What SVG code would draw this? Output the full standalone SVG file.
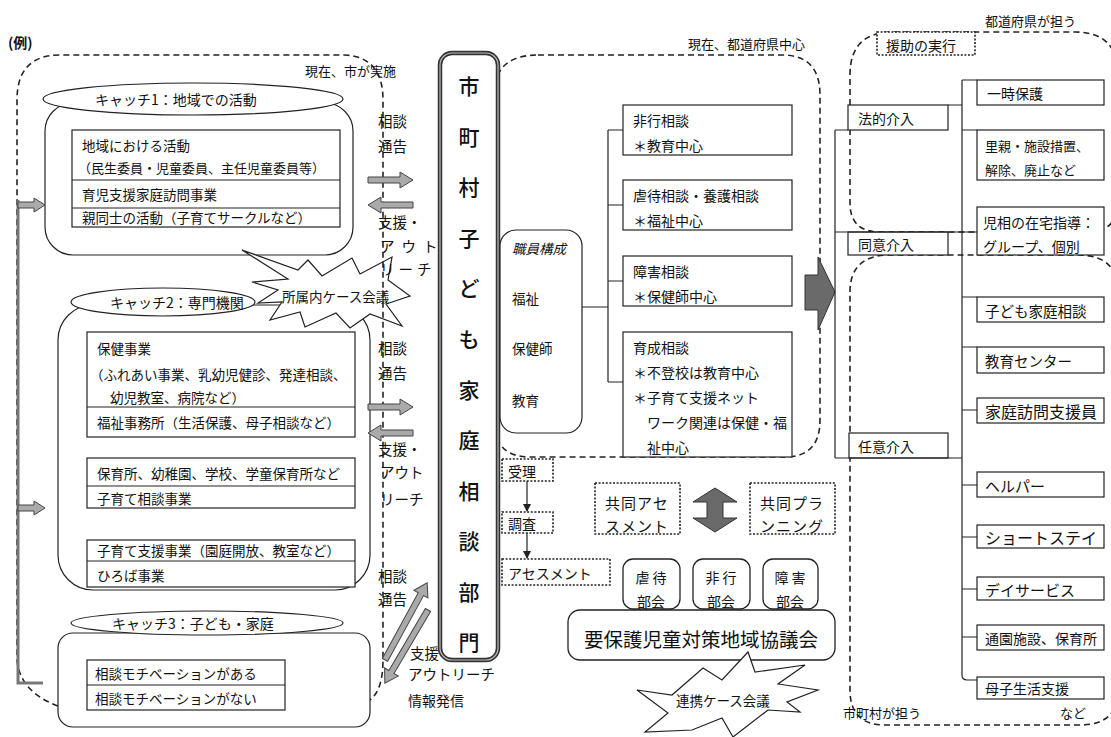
<svg xmlns="http://www.w3.org/2000/svg" width="1111" height="737" viewBox="0 0 1111 737">
<style>
text{font-family:"Noto Sans CJK JP","Noto Sans CJK SC",sans-serif;fill:#111;dominant-baseline:central;font-size:13.5px}
.f13{font-size:13px}.f14{font-size:14px}.f145{font-size:14.5px}.f15{font-size:15px}.f16{font-size:16px}
.big{font-size:21px;font-weight:500}.f195{font-size:19.5px}
.mid{text-anchor:middle}
.box{fill:#fff;stroke:#222;stroke-width:1.2}
.rbox{fill:#fff;stroke:#222;stroke-width:1.3}
.dash{fill:none;stroke:#222;stroke-width:1.6;stroke-dasharray:6 4}
.dot{fill:#fff;stroke:#222;stroke-width:1.6;stroke-dasharray:2 1.6}
.ln{fill:none;stroke:#222;stroke-width:1.2}
.garrow{fill:#aaa;stroke:#444;stroke-width:1}
.dark{fill:#6a6a6a;stroke:#333;stroke-width:1}
.burst{fill:#fff;stroke:#222;stroke-width:1.2;stroke-linejoin:miter}
</style>
<defs>
<marker id="ah" markerWidth="8" markerHeight="8" refX="7" refY="4" orient="auto" markerUnits="userSpaceOnUse"><path d="M0,0 L8,4 L0,8 Z" fill="#222"/></marker>
</defs>

<!-- region labels -->
<g id="labels">
<text x="8" y="42" class="f14" font-weight="bold">(例)</text>
<text x="305" y="70" class="f13">現在、市が実施</text>
<text x="688" y="43" class="f13">現在、都道府県中心</text>
<text x="985" y="20" class="f13">都道府県が担う</text>
<text x="843" y="712" class="f13">市町村が担う</text>
<text x="1060" y="712" class="f13">など</text>
</g>

<!-- dashed regions -->
<g id="region-prefecture-center">
<path class="dash" d="M538,55 H782 Q820,55 820,95 V420 Q820,457 785,457 H530 Q494,457 494,420 V95 Q494,55 538,55 Z"/>
</g>
<g id="region-prefecture">
<path class="dash" d="M850,75 Q850,32 893,32 H1075 Q1118,32 1118,75 V200 Q1118,232 1088,232 H880 Q850,232 850,203 Z"/>
</g>
<g id="region-municipality">
<path class="dash" d="M850,292 Q850,255 890,255 H1078 Q1118,255 1118,292 V690 Q1118,725 1080,725 H885 Q850,725 850,690 Z"/>
</g>

<!-- catch 1 -->
<g id="catch1">
<rect class="box" x="45" y="103" width="308" height="152" rx="28"/>
<ellipse class="box" cx="193" cy="99" rx="150" ry="16"/>
<text x="95" y="99" class="f14">キャッチ1：地域での活動</text>
<rect class="box" x="72" y="130" width="268" height="97"/>
<line class="ln" x1="72" y1="180" x2="340" y2="180"/>
<line class="ln" x1="72" y1="208" x2="340" y2="208"/>
<text x="82" y="145">地域における活動</text>
<text x="78" y="167" class="f13">（民生委員・児童委員、主任児童委員等）</text>
<text x="82" y="194">育児支援家庭訪問事業</text>
<text x="82" y="217">親同士の活動（子育てサークルなど）</text>
</g>

<!-- catch 2 -->
<g id="catch2">
<rect class="box" x="58" y="305" width="312" height="285" rx="35"/>
<ellipse class="box" cx="163" cy="302" rx="92" ry="14"/>
<text x="110" y="302" class="f14">キャッチ2：専門機関</text>
<rect class="box" x="87" y="332" width="268" height="105"/>
<line class="ln" x1="87" y1="407" x2="355" y2="407"/>
<text x="97" y="348">保健事業</text>
<text x="90" y="374">（ふれあい事業、乳幼児健診、発達相談、</text>
<text x="110" y="397">幼児教室、病院など）</text>
<text x="97" y="422">福祉事務所（生活保護、母子相談など）</text>
<rect class="box" x="87" y="458" width="268" height="50"/>
<line class="ln" x1="87" y1="486" x2="355" y2="486"/>
<text x="97" y="473">保育所、幼稚園、学校、学童保育所など</text>
<text x="97" y="498">子育て相談事業</text>
<rect class="box" x="87" y="540" width="268" height="47"/>
<line class="ln" x1="87" y1="561" x2="355" y2="561"/>
<text x="97" y="550">子育て支援事業（園庭開放、教室など）</text>
<text x="97" y="575">ひろば事業</text>
</g>

<!-- in-office case meeting -->
<g id="burst-office">
<polygon class="burst" points="242,250 298,270 308,260 322,276 352,258 360,274 392,257 388,280 410,296 386,304 402,326 370,314 350,328 336,313 305,327 300,312 270,320 282,302 258,303 278,290 252,282 288,279"/>
<text x="282" y="296">所属内ケース会議</text>
</g>

<!-- left dashed region (municipal) -->
<g id="region-city">
<path class="dash" d="M58,706 Q20,692 17,660 V100 Q17,55 60,55 H345 Q383,57 383,100 V660 Q383,690 370,700"/>
</g>

<!-- catch 3 -->
<g id="catch3">
<rect class="box" x="58" y="633" width="312" height="94" rx="15"/>
<ellipse class="box" cx="207" cy="623" rx="136" ry="12"/>
<text x="112" y="623" class="f14">キャッチ3：子ども・家庭</text>
<rect class="box" x="87" y="660" width="198" height="50"/>
<line class="ln" x1="87" y1="685" x2="285" y2="685"/>
<text x="95" y="673">相談モチベーションがある</text>
<text x="95" y="698">相談モチベーションがない</text>
</g>

<!-- middle column labels -->
<g id="mid-labels">
<text x="378" y="120" class="f145">相談</text>
<text x="378" y="145" class="f145">通告</text>
<text x="378" y="221" class="f145">支援・</text>
<text x="380" y="245" class="f145" letter-spacing="7">アウト</text>
<text x="380" y="268" class="f145" letter-spacing="4">リーチ</text>
<text x="378" y="347" class="f145">相談</text>
<text x="378" y="372" class="f145">通告</text>
<text x="378" y="448" class="f145">支援・</text>
<text x="380" y="471" class="f145">アウト</text>
<text x="380" y="498" class="f145">リーチ</text>
<text x="378" y="575" class="f145">相談</text>
<text x="378" y="598" class="f145">通告</text>
<text x="410" y="652" class="f145">支援</text>
<text x="408" y="673" class="f145">アウトリーチ</text>
<text x="408" y="700" class="f14">情報発信</text>
</g>

<!-- central department -->
<g id="dept">
<rect x="440" y="53" width="58" height="607" rx="12" fill="#fff" stroke="#333" stroke-width="4.5"/>
<rect x="440" y="53" width="58" height="607" rx="12" fill="none" stroke="#bbb" stroke-width="1.2"/>
<text x="469" y="85" class="mid big">市</text>
<text x="469" y="136" class="mid big">町</text>
<text x="469" y="186" class="mid big">村</text>
<text x="469" y="237" class="mid big">子</text>
<text x="469" y="287" class="mid big">ど</text>
<text x="469" y="338" class="mid big">も</text>
<text x="469" y="389" class="mid big">家</text>
<text x="469" y="439" class="mid big">庭</text>
<text x="469" y="490" class="mid big">相</text>
<text x="469" y="540" class="mid big">談</text>
<text x="469" y="591" class="mid big">部</text>
<text x="469" y="641" class="mid big">門</text>
</g>

<!-- staff composition -->
<g id="staff">
<rect class="box" x="500" y="230" width="82" height="203" rx="16"/>
<text x="512" y="248" font-style="italic">職員構成</text>
<text x="512" y="298">福祉</text>
<text x="512" y="348">保健師</text>
<text x="512" y="400">教育</text>
</g>

<g id="consult-delinquency">
<rect class="box" x="623" y="105" width="169" height="50"/>
<text x="633" y="120" class="f14">非行相談</text>
<text x="633" y="145" class="f14">＊教育中心</text>
</g>
<g id="consult-abuse">
<rect class="box" x="623" y="180" width="169" height="50"/>
<text x="633" y="195" class="f14">虐待相談・養護相談</text>
<text x="633" y="220" class="f14">＊福祉中心</text>
</g>
<g id="consult-disability">
<rect class="box" x="623" y="256" width="169" height="50"/>
<text x="633" y="271" class="f14">障害相談</text>
<text x="633" y="296" class="f14">＊保健師中心</text>
</g>
<g id="consult-growth">
<rect class="box" x="623" y="332" width="169" height="125"/>
<text x="633" y="347" class="f14">育成相談</text>
<text x="633" y="372" class="f14">＊不登校は教育中心</text>
<text x="633" y="397" class="f14">＊子育て支援ネット</text>
<text x="647" y="422" class="f14">ワーク関連は保健・福</text>
<text x="647" y="447" class="f14">祉中心</text>
</g>

<!-- process -->
<g id="proc-accept">
<rect class="dot" x="502" y="459" width="51" height="22"/>
<text x="508" y="471" class="f14">受理</text>
</g>
<g id="proc-survey">
<rect class="dot" x="502" y="512" width="51" height="21"/>
<text x="508" y="523" class="f14">調査</text>
</g>
<g id="proc-assess">
<rect class="dot" x="502" y="559" width="108" height="26"/>
<text x="508" y="573" class="f14">アセスメント</text>
</g>
<g id="joint-assess">
<rect class="dot" x="595" y="483" width="85" height="51"/>
<text x="605" y="502" class="f15" letter-spacing="1">共同アセ</text>
<text x="605" y="525" class="f15" letter-spacing="1">スメント</text>
</g>
<g id="joint-plan">
<rect class="dot" x="750" y="483" width="85" height="51"/>
<text x="760" y="502" class="f15" letter-spacing="1">共同プラ</text>
<text x="760" y="525" class="f15" letter-spacing="1">ンニング</text>
</g>

<g id="sub-abuse">
<rect class="rbox" x="623" y="559" width="57" height="50" rx="10"/>
<text x="651" y="577" class="mid f14">虐 待</text>
<text x="651" y="601" class="mid f14">部会</text>
</g>
<g id="sub-delinq">
<rect class="rbox" x="693" y="559" width="57" height="50" rx="10"/>
<text x="721" y="577" class="mid f14">非 行</text>
<text x="721" y="601" class="mid f14">部会</text>
</g>
<g id="sub-disab">
<rect class="rbox" x="763" y="559" width="55" height="50" rx="10"/>
<text x="790" y="577" class="mid f14">障 害</text>
<text x="790" y="601" class="mid f14">部会</text>
</g>
<g id="council">
<rect class="rbox" x="568" y="610" width="267" height="50" rx="12"/>
<text x="701" y="638" class="mid f195">要保護児童対策地域協議会</text>
</g>
<g id="burst-coop">
<polygon class="burst" points="748,652 755,672 805,665 778,684 818,690 787,702 800,712 768,710 733,737 722,718 692,730 645,732 668,713 637,690 672,695 703,668 722,680"/>
<text x="676" y="700">連携ケース会議</text>
</g>

<!-- right side -->
<g id="assist-exec">
<rect class="dot" x="877" y="32" width="98" height="23"/>
<text x="886" y="45" class="f14">援助の実行</text>
</g>
<g id="legal">
<rect class="box" x="848" y="105" width="100" height="25"/>
<text x="858" y="118" class="f14">法的介入</text>
</g>
<g id="consent">
<rect class="box" x="848" y="232" width="100" height="23"/>
<text x="858" y="244" class="f14">同意介入</text>
</g>
<g id="voluntary">
<rect class="box" x="849" y="433" width="99" height="25"/>
<text x="858" y="446" class="f14">任意介入</text>
</g>

<g id="r-temp"><rect class="box" x="977" y="80" width="127" height="25"/><text x="987" y="93" class="f14">一時保護</text></g>
<g id="r-foster"><rect class="box" x="977" y="130" width="127" height="50"/><text x="985" y="145" class="f13">里親・施設措置、</text><text x="985" y="169" class="f13">解除、廃止など</text></g>
<g id="r-home"><rect class="box" x="977" y="207" width="127" height="48"/><text x="983" y="222" class="f14">児相の在宅指導：</text><text x="983" y="246" class="f14">グループ、個別</text></g>
<g id="r-family"><rect class="box" x="977" y="297" width="127" height="25"/><text x="985" y="310" class="f145">子ども家庭相談</text></g>
<g id="r-edu"><rect class="box" x="977" y="347" width="127" height="26"/><text x="985" y="360" class="f145">教育センター</text></g>
<g id="r-visit"><rect class="box" x="977" y="398" width="127" height="25"/><text x="985" y="411" class="f16">家庭訪問支援員</text></g>
<g id="r-helper"><rect class="box" x="977" y="472" width="127" height="25"/><text x="985" y="485" class="f15">ヘルパー</text></g>
<g id="r-short"><rect class="box" x="977" y="525" width="127" height="23"/><text x="985" y="537" class="f16">ショートステイ</text></g>
<g id="r-day"><rect class="box" x="977" y="577" width="127" height="23"/><text x="985" y="589" class="f15">デイサービス</text></g>
<g id="r-nursery"><rect class="box" x="977" y="625" width="127" height="25"/><text x="985" y="638" class="f14">通園施設、保育所</text></g>
<g id="r-mother"><rect class="box" x="977" y="677" width="127" height="22"/><text x="985" y="688" class="f14">母子生活支援</text></g>

<!-- connectors -->
<g id="connectors">
<path d="M18,200 V683 H43" fill="none" stroke="#777" stroke-width="3"/>
<polygon class="garrow" points="18,202 34,202 34,198 45,205 34,212 34,208 18,208"/>
<polygon class="garrow" points="18,505 34,505 34,501 45,508 34,515 34,511 18,511"/>
<polygon class="garrow" points="368,177 400,177 400,172 413,180 400,188 400,183 368,183"/>
<polygon class="garrow" points="413,202 381,202 381,197 368,205 381,213 381,208 413,208"/>
<polygon class="garrow" points="368,404 400,404 400,399 413,407 400,415 400,410 368,410"/>
<polygon class="garrow" points="413,430 381,430 381,425 368,433 381,441 381,436 413,436"/>
<polygon class="garrow" transform="translate(385,660) rotate(-61.4)" points="0,-3 75,-3 75,-8 88,0 75,8 75,3 0,3"/>
<polygon class="garrow" transform="translate(428,610) rotate(120.5)" points="0,-3 72,-3 72,-8 85,0 72,8 72,3 0,3"/>
<path class="ln" d="M582,307 H608 M608,130 V382 M608,130 H623 M608,205 H623 M608,281 H623 M608,382 H623"/>
<polygon class="dark" points="805,275 818,275 818,257 835,292 818,330 818,310 805,310"/>
<line class="ln" x1="527" y1="481" x2="527" y2="511" marker-end="url(#ah)"/>
<line class="ln" x1="527" y1="533" x2="527" y2="558" marker-end="url(#ah)"/>
<polygon class="dark" points="715,488 737,502 723,502 723,518 737,518 715,532 693,518 707,518 707,502 693,502"/>
<path class="ln" d="M835,130 V458 M835,130 H848 M948,105 H962 M835,232 H977 M835,458 H962"/>
<path class="ln" d="M962,80 V675 Q962,680 967,680 H977 M962,80 H977 M962,130 H977 M962,297 H977 M962,347 H977 M962,410 H977 M962,485 H977 M962,537 H977 M962,589 H977 M962,637 H977"/>
</g>
</svg>
